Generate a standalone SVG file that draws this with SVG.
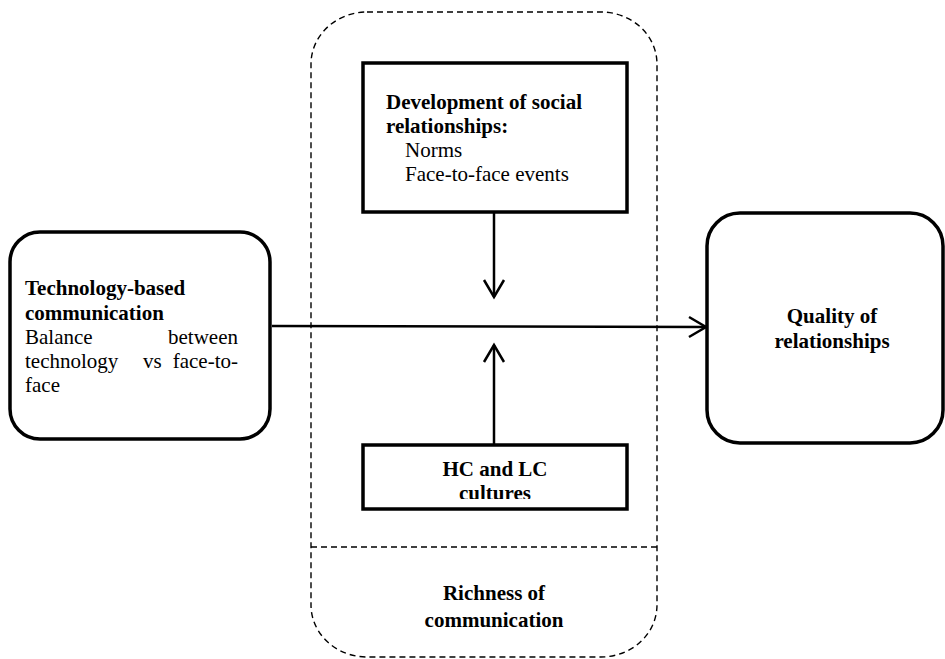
<svg xmlns="http://www.w3.org/2000/svg" width="945" height="659" viewBox="0 0 945 659">
<style>
  text { font-family: "Liberation Serif", "Times New Roman", serif; font-size: 21px; fill: #000; }
  .b { font-weight: bold; }
  .box { fill: #fff; stroke: #000; stroke-width: 3.5; }
  .dash { fill: none; stroke: #000; stroke-width: 1.4; stroke-dasharray: 6 4; }
  .conn { fill: none; stroke: #000; stroke-width: 2.5; }
</style>
<defs>
  <marker id="arr" markerUnits="userSpaceOnUse" markerWidth="24" markerHeight="26" viewBox="0 -13 24 26" refX="19" refY="0" orient="auto">
    <path d="M2,-10 L19,0 L2,10" fill="none" stroke="#000" stroke-width="2.5"/>
  </marker>
  <clipPath id="hcclip"><rect x="365" y="447" width="260" height="52"/></clipPath>
</defs>
<rect width="945" height="659" fill="#fff"/>

<g id="richness">
  <rect class="dash" x="311" y="12" width="346" height="645" rx="56" ry="52"/>
  <line class="dash" x1="311" y1="547" x2="657" y2="547" stroke-width="1.8"/>
  <text class="b" x="494" y="600" text-anchor="middle" font-size="22.5">Richness of</text>
  <text class="b" x="494" y="627" text-anchor="middle" font-size="22.5">communication</text>
</g>

<g id="connectors">
  <line class="conn" x1="272" y1="326" x2="706" y2="327" marker-end="url(#arr)"/>
  <line class="conn" x1="494" y1="212" x2="494" y2="297" marker-end="url(#arr)"/>
  <line class="conn" x1="494" y1="444" x2="494" y2="345" marker-end="url(#arr)"/>
</g>

<g id="social">
  <rect class="box" x="363" y="63" width="264" height="149" stroke-width="4"/>
  <text class="b" x="386" y="109">Development of social</text>
  <text class="b" x="386" y="133">relationships:</text>
  <text x="405" y="157">Norms</text>
  <text x="405" y="181">Face-to-face events</text>
</g>

<g id="technology">
  <rect class="box" x="10" y="232" width="260" height="207" rx="30"/>
  <text class="b" x="25" y="295">Technology-based</text>
  <text class="b" x="25" y="320">communication</text>
  <text x="25" y="344">Balance</text>
  <text x="238" y="344" text-anchor="end">between</text>
  <text x="25" y="368">technology</text>
  <text x="143" y="368">vs</text>
  <text x="238" y="368" text-anchor="end">face-to-</text>
  <text x="25" y="392">face</text>
</g>

<g id="quality">
  <rect class="box" x="707" y="213" width="236" height="230" rx="33"/>
  <text class="b" x="832" y="323" text-anchor="middle">Quality of</text>
  <text class="b" x="832" y="348" text-anchor="middle">relationships</text>
</g>

<g id="hclc">
  <rect class="box" x="363" y="445" width="264" height="64" stroke-width="4"/>
  <g clip-path="url(#hcclip)">
    <text class="b" x="495" y="476" text-anchor="middle">HC and LC</text>
    <text class="b" x="495" y="500" text-anchor="middle">cultures</text>
  </g>
</g>
</svg>
